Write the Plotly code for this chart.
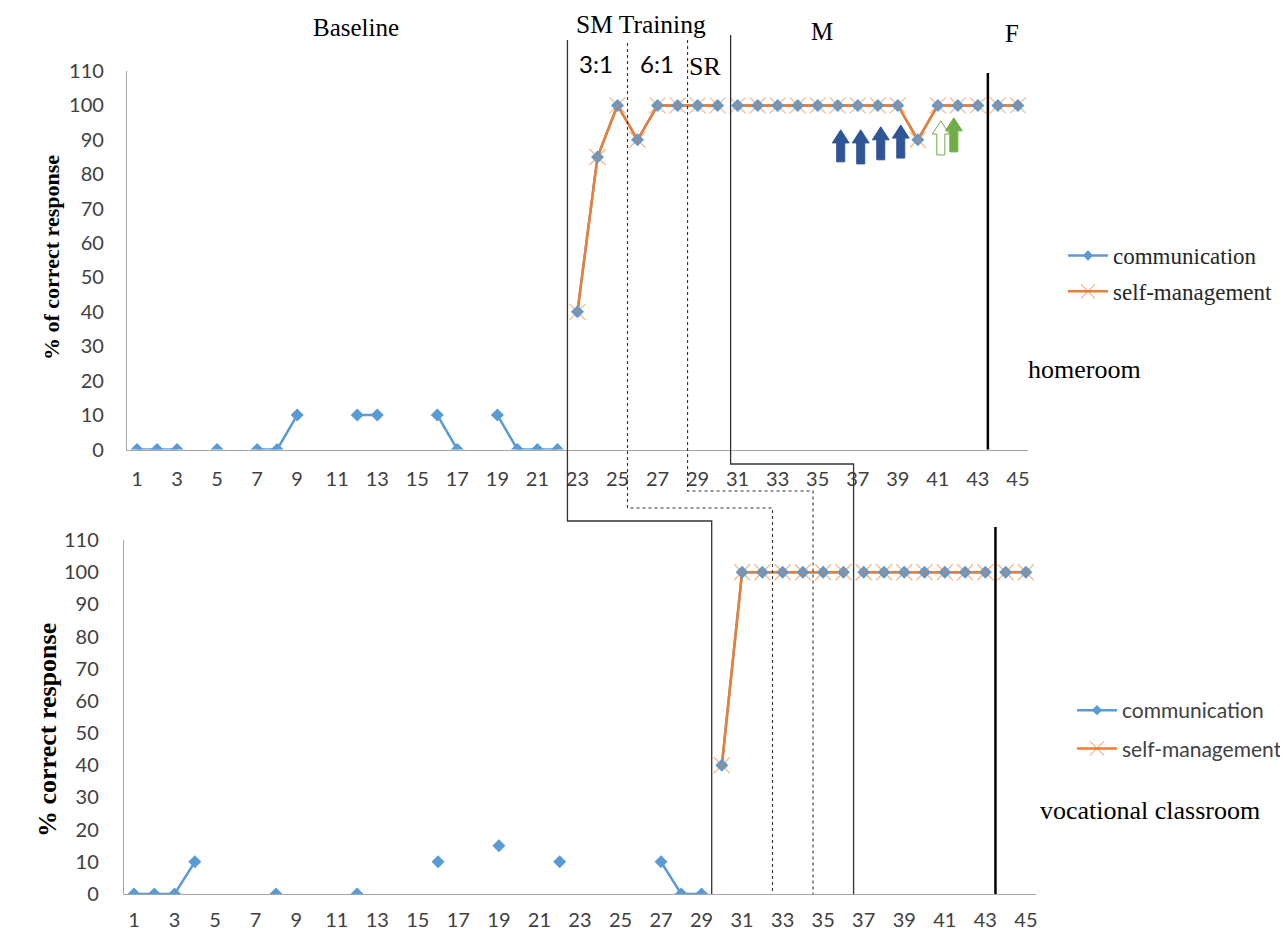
import plotly.graph_objects as go

# ---------------- data ----------------
sessions = list(range(1, 46))
N = None
comm_home = [0, 0, 0, N, 0, N, 0, 0, 10, N, N, 10, 10, N, N, 10, 0, N, 10, 0, 0, 0,
             40, 85, 100, 90, 100, 100, 100, 100,
             100, 100, 100, 100, 100, 100, 100, 100, 100, 90, 100, 100, 100,
             100, 100]
sm_home = [N] * 22 + [40, 85, 100, 90, 100, 100, 100, 100,
                      100, 100, 100, 100, 100, 100, 100, 100, 100, 90, 100, 100, 100,
                      100, 100]
comm_voc = [0, 0, 0, 10, N, N, N, 0, N, N, N, 0, N, N, N, 10, N, N, 15, N, N, 10,
            N, N, N, N, 10, 0, 0,
            40, 100, 100, 100, 100, 100, 100,
            100, 100, 100, 100, 100, 100, 100,
            100, 100]
sm_voc = [N] * 29 + [40, 100, 100, 100, 100, 100, 100,
                     100, 100, 100, 100, 100, 100, 100,
                     100, 100]
tick_vals = list(range(1, 46, 2))
tick_text = [str(v) for v in tick_vals]

# phase boundaries (session units)
home_breaks = [22.5, 30.5, 43.5]
voc_breaks = [29.5, 36.5, 43.5]
# connected phase lines: (top session, bottom session, style)
phase_links = [(22.5, 29.5, "solid"), (25.5, 32.5, "3px,3px"), (28.5, 34.5, "3px,3px"), (30.65, 36.5, "solid")]
link_y_px = [521, 508, 491, 464]
link_top_px = [40, 43, 40, 35]
# arrows in homeroom panel
blue_arrow_x = [36.15, 37.15, 38.15, 39.15]
blue_arrow_lo = [83.6, 83.0, 84.2, 84.7]
blue_arrow_hi = [92.9, 92.9, 93.8, 94.3]
green_arrow_x = [41.15, 41.8]
green_arrow_lo = [85.6, 86.5]
green_arrow_hi = [95.5, 96.4]

W, H = 1288, 932
OFF = 8  # page body margin
def px(x):
    return (x - OFF) / W
def py(y):
    return 1 - (y - OFF) / H

TOP_XD = [px(127), px(1027.9)]
TOP_YD = [py(449.5), py(71)]
BOT_XD = [px(123.9), px(1036)]
BOT_YD = [py(894), py(540)]
XR = [0.5, 45.5]

def sx(s, dom):
    return dom[0] + (s - XR[0]) / (XR[1] - XR[0]) * (dom[1] - dom[0])

def split(xs, ys, breaks):
    ox, oy = [], []
    for x, y in zip(xs, ys):
        for b in breaks:
            if ox and ox[-1] is not None and ox[-1] < b < x:
                ox.append(None); oy.append(None)
        ox.append(x); oy.append(y)
    return ox, oy

BLUE = "#5B9BD5"
ORANGE = "#ED7D31"
SERIF = "Liberation Serif"
SANS = "Lato"

fig = go.Figure()

def add_panel(comm, sm, breaks, xa, ya, legend):
    cx, cy = split(sessions, comm, breaks)
    mx, my = split(sessions, sm, breaks)
    fig.add_trace(go.Scatter(x=cx, y=cy, mode="lines", line=dict(color=BLUE, width=2.5),
                             xaxis=xa, yaxis=ya, showlegend=False, hoverinfo="skip"))
    fig.add_trace(go.Scatter(x=mx, y=my, mode="lines", line=dict(color=ORANGE, width=2.5),
                             xaxis=xa, yaxis=ya, showlegend=False, hoverinfo="skip"))
    fig.add_trace(go.Scatter(x=sessions, y=comm, mode="markers",
                             marker=dict(symbol="diamond", size=10, color=BLUE),
                             xaxis=xa, yaxis=ya, showlegend=False))
    fig.add_trace(go.Scatter(x=sessions, y=sm, mode="markers",
                             marker=dict(symbol="x-thin", size=16,
                                         line=dict(color="rgba(237,125,49,0.55)", width=1.3)),
                             xaxis=xa, yaxis=ya, showlegend=False))
    # legend entries
    fig.add_trace(go.Scatter(x=[None], y=[None], mode="lines+markers", name="communication",
                             line=dict(color=BLUE, width=2.5),
                             marker=dict(symbol="diamond", size=8, color=BLUE),
                             xaxis=xa, yaxis=ya, legend=legend, legendgroup=legend + "a"))
    fig.add_trace(go.Scatter(x=[None], y=[None], mode="lines+markers", name="self-management",
                             line=dict(color=ORANGE, width=2.5),
                             marker=dict(symbol="x-thin", size=14,
                                         line=dict(color="rgba(237,125,49,0.6)", width=1.2)),
                             xaxis=xa, yaxis=ya, legend=legend, legendgroup=legend + "b"))

add_panel(comm_home, sm_home, home_breaks, "x", "y", "legend")
add_panel(comm_voc, sm_voc, voc_breaks, "x2", "y2", "legend2")

axis_common = dict(showgrid=False, zeroline=False, showline=True, linecolor="#A6A6A6",
                   linewidth=1.3, ticks="", automargin=False,
                   tickfont=dict(family=SANS, size=20, color="#404040"))
fig.update_layout(
    width=W, height=H, margin=dict(l=0, r=0, t=0, b=0),
    paper_bgcolor="white", plot_bgcolor="rgba(0,0,0,0)",
    xaxis=dict(domain=TOP_XD, range=XR, tickvals=tick_vals, ticktext=tick_text,
               anchor="y", ticklabelstandoff=11, **axis_common),
    yaxis=dict(domain=TOP_YD, range=[0, 110], dtick=10, anchor="x", ticklabelstandoff=18,
               **axis_common),
    xaxis2=dict(domain=BOT_XD, range=XR, tickvals=tick_vals, ticktext=tick_text,
                anchor="y2", ticklabelstandoff=8, **axis_common),
    yaxis2=dict(domain=BOT_YD, range=[0, 110], dtick=10, anchor="x2", ticklabelstandoff=20,
                **axis_common),
    legend=dict(x=px(1063), y=py(234), xanchor="left", yanchor="top",
                font=dict(family=SERIF, size=23, color="#262626"),
                bgcolor="rgba(0,0,0,0)", tracegroupgap=3, itemwidth=40),
    legend2=dict(x=px(1072), y=py(690), xanchor="left", yanchor="top",
                 font=dict(family=SANS, size=21, color="#404040"),
                 bgcolor="rgba(0,0,0,0)", tracegroupgap=8, itemwidth=40),
)

shapes = []
LC = "#333333"
for (st, sb, dash), yl, yt in zip(phase_links, link_y_px, link_top_px):
    xt = sx(st, TOP_XD)
    xb = sx(sb, BOT_XD)
    lw = 1.3 if dash == "solid" else 1.1
    path = f"M {xt},{py(yt)} L {xt},{py(yl)} L {xb},{py(yl)} L {xb},{BOT_YD[0]}"
    shapes.append(dict(type="path", xref="paper", yref="paper", path=path,
                       line=dict(color=LC, width=lw, dash=dash)))
# final thick lines (F phase)
shapes.append(dict(type="line", xref="x", yref="paper", x0=home_breaks[2], x1=home_breaks[2],
                   y0=TOP_YD[0], y1=py(73), line=dict(color="black", width=2.5)))
shapes.append(dict(type="line", xref="x2", yref="paper", x0=voc_breaks[2], x1=voc_breaks[2],
                   y0=BOT_YD[0], y1=py(527), line=dict(color="black", width=2.5)))

def block_arrow(cx, lo, hi, fill, outline):
    sw, hw, hh = 0.2, 0.42, 3.8
    p = (f"M {cx-sw},{lo} L {cx+sw},{lo} L {cx+sw},{hi-hh} L {cx+hw},{hi-hh} "
         f"L {cx},{hi} L {cx-hw},{hi-hh} L {cx-sw},{hi-hh} Z")
    return dict(type="path", xref="x", yref="y", path=p, fillcolor=fill,
                line=dict(color=outline, width=1))

for cx, lo, hi in zip(blue_arrow_x, blue_arrow_lo, blue_arrow_hi):
    shapes.append(block_arrow(cx, lo, hi, "#2F5597", "#2F5597"))
shapes.append(block_arrow(green_arrow_x[0], green_arrow_lo[0], green_arrow_hi[0], "white", "#70AD47"))
shapes.append(block_arrow(green_arrow_x[1], green_arrow_lo[1], green_arrow_hi[1], "#70AD47", "#70AD47"))
fig.update_layout(shapes=shapes)

def label(text, x, y, family=SERIF, size=25, angle=0):
    return dict(text=text, x=px(x), y=py(y), xref="paper", yref="paper", showarrow=False,
                textangle=angle, font=dict(family=family, size=size, color="black"),
                xanchor="center", yanchor="middle")

fig.update_layout(annotations=[
    label("Baseline", 356, 27),
    label("SM Training", 641, 25, size=25.5),
    label("M", 822, 32),
    label("F", 1012, 33),
    label("3:1", 596, 63, SANS, 24),
    label("6:1", 657, 63, SANS, 24),
    label("SR", 705, 66, size=26),
    label("homeroom", 1084, 370, size=26),
    label("vocational classroom", 1150, 810, size=26),
    label("<b>% of correct response</b>", 52, 258, size=22, angle=-90),
    label("<b>% correct response</b>", 47, 730, size=26, angle=-90),
])

fig.write_html("out.html")
